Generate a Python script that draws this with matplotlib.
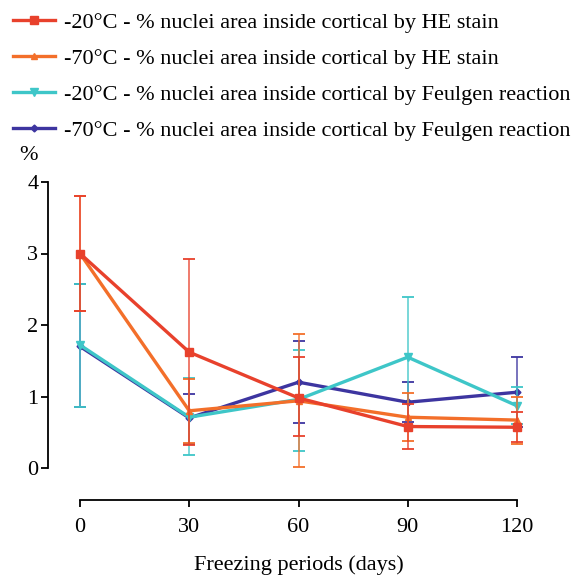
import matplotlib.pyplot as plt
from matplotlib.lines import Line2D

plt.rcParams["font.family"] = ["Liberation Serif", "DejaVu Serif"]

days = [0, 30, 60, 90, 120]

labels = [
    "-20°C - % nuclei area inside cortical by HE stain",
    "-70°C - % nuclei area inside cortical by HE stain",
    "-20°C - % nuclei area inside cortical by Feulgen reaction",
    "-70°C - % nuclei area inside cortical by Feulgen reaction",
]
colors = ["#e8412c", "#f36f2a", "#3ec6c8", "#3d35a0"]
markers = ["s", "^", "v", "D"]
marker_sizes = [6, 5, 6, 3.5]

# means and lower / upper error bar ends
he_20 = [3.00, 1.62, 0.98, 0.58, 0.57]
he_20_lo = [2.20, 0.32, 0.45, 0.27, 0.36]
he_20_hi = [3.80, 2.93, 1.55, 0.90, 0.78]

he_70 = [3.00, 0.80, 0.94, 0.71, 0.67]
he_70_lo = [2.20, 0.35, 0.01, 0.38, 0.33]
he_70_hi = [3.80, 1.24, 1.87, 1.05, 1.00]

feu_20 = [1.72, 0.71, 0.96, 1.55, 0.87]
feu_20_lo = [0.86, 0.18, 0.24, 0.71, 0.61]
feu_20_hi = [2.57, 1.26, 1.65, 2.39, 1.13]

feu_70 = [1.70, 0.70, 1.20, 0.92, 1.06]
feu_70_lo = [0.86, 0.34, 0.63, 0.64, 0.57]
feu_70_hi = [2.57, 1.03, 1.78, 1.20, 1.55]

series = [
    (he_20, he_20_lo, he_20_hi),
    (he_70, he_70_lo, he_70_hi),
    (feu_20, feu_20_lo, feu_20_hi),
    (feu_70, feu_70_lo, feu_70_hi),
]

fig = plt.figure(figsize=(5.85, 5.76), dpi=100)
ax = fig.add_axes([80 / 585, 1 - 468 / 576, 437 / 585, 286 / 576])

draw_order = [3, 2, 1, 0]
for i in draw_order:
    mean, lo, hi = series[i]
    yerr = [[m - l for m, l in zip(mean, lo)], [h - m for m, h in zip(mean, hi)]]
    eb = ax.errorbar(days, mean, yerr=yerr, color=colors[i], ecolor=colors[i],
                     elinewidth=1.3, capsize=4, capthick=1.3, lw=2.4,
                     marker=markers[i], ms=marker_sizes[i], zorder=3 + (3 - i))
    for art in eb.lines[2]:
        art.set_alpha(0.75)
        art.set_clip_on(False)
    for art in eb.lines[1]:
        art.set_clip_on(False)
    eb.lines[0].set_clip_on(False)

ax.set_xlim(0, 120)
ax.set_ylim(0, 4)
ax.set_xticks(days)
ax.set_yticks([0, 1, 2, 3, 4])
ax.spines["top"].set_visible(False)
ax.spines["right"].set_visible(False)
ax.spines["left"].set_position(("outward", 23))
ax.spines["bottom"].set_position(("outward", 23))
ax.spines["left"].set_linewidth(1.3)
ax.spines["bottom"].set_linewidth(1.3)
ax.tick_params(axis="both", direction="out", length=5, width=1.3, labelsize=16)
ax.tick_params(axis="y", pad=2)
ax.tick_params(axis="x", pad=8)
ax.set_xlabel("Freezing periods (days)", fontsize=16, labelpad=13)
fig.text(28 / 585, 1 - 155 / 576, "%", fontsize=16, ha="center", va="center")

handles = [Line2D([], [], color=c, marker=m, ms=s, lw=2.4)
           for c, m, s in zip(colors, markers, marker_sizes)]
fig.legend(handles, labels, loc="upper left", bbox_to_anchor=(1 / 585, 1.0),
           frameon=False, fontsize=16, handlelength=1.9, handletextpad=0.4,
           labelspacing=0.7, borderaxespad=0.15)

fig.savefig("out.png", dpi=100)
